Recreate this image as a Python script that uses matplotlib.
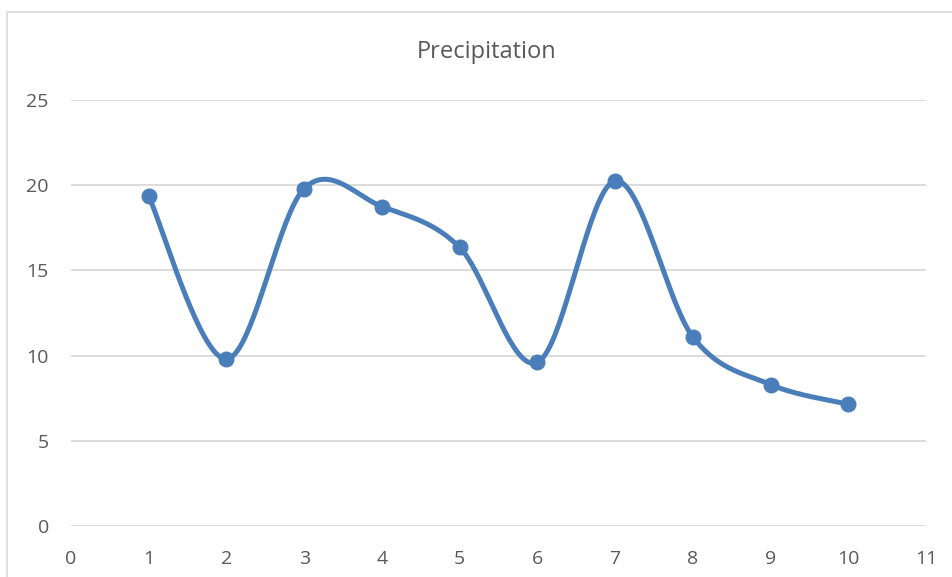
import numpy as np
import matplotlib
matplotlib.use("Agg")
import matplotlib.pyplot as plt
from matplotlib.patches import Rectangle

# data
x_vals = [1, 2, 3, 4, 5, 6, 7, 8, 9, 10]
precip = [19.35, 9.8, 19.8, 18.75, 16.35, 9.6, 20.25, 11.1, 8.3, 7.15]
x_ticks = list(range(0, 12))
y_ticks = [0, 5, 10, 15, 20, 25]

LINE = "#4A7EBB"
TXT = "#595959"
GRID = "#D9D9D9"


def smooth_curve(xs, ys, n=40):
    """Excel-style smoothed line: cubic Bezier segments, control points at 1/6 of neighbour spread."""
    xs = np.asarray(xs, float)
    ys = np.asarray(ys, float)
    pts = np.column_stack([xs, ys])
    out = []
    t = np.linspace(0, 1, n)[:, None]
    for i in range(len(pts) - 1):
        p0 = pts[max(i - 1, 0)]
        p1 = pts[i]
        p2 = pts[i + 1]
        p3 = pts[min(i + 2, len(pts) - 1)]
        c1 = p1 + (p2 - p0) / 6.0
        c2 = p2 - (p3 - p1) / 6.0
        seg = ((1 - t) ** 3) * p1 + 3 * ((1 - t) ** 2) * t * c1 + 3 * (1 - t) * t ** 2 * c2 + t ** 3 * p2
        out.append(seg if i == 0 else seg[1:])
    seg = np.vstack(out)
    return seg[:, 0], seg[:, 1]


plt.rcParams['font.family'] = ['Open Sans', 'DejaVu Sans']

fig = plt.figure(figsize=(9.53, 5.77), dpi=100)

# light chart-area border
fig.patches.append(Rectangle((7 / 953, -0.1), 1.2, 1 - 12 / 577 + 0.1, transform=fig.transFigure,
                             fill=False, edgecolor=GRID, linewidth=1.2))

ax = fig.add_axes([71 / 953, 1 - 526 / 577, (926 - 71) / 953, (526 - 100) / 577])

sx, sy = smooth_curve(x_vals, precip)
ax.plot(sx, sy, color=LINE, linewidth=3.6, solid_capstyle='round', zorder=3)
ax.plot(x_vals, precip, linestyle='none', marker='o', markersize=10.5, color=LINE, zorder=4)

ax.set_xlim(0, 11)
ax.set_ylim(0, 25)
ax.set_xticks(x_ticks)
ax.set_yticks(y_ticks)
ax.yaxis.grid(True, color=GRID, linewidth=1.3)
ax.set_axisbelow(True)
for s in ax.spines.values():
    s.set_visible(False)
ax.tick_params(axis='both', length=0, labelcolor=TXT, labelsize=14)
ax.tick_params(axis='y', pad=16)
ax.tick_params(axis='x', pad=17)

fig.text(487 / 953, 1 - 58 / 577, "Precipitation", ha='center', va='baseline', fontsize=17, color=TXT)

fig.savefig("out.png", dpi=100)
plt.close(fig)
